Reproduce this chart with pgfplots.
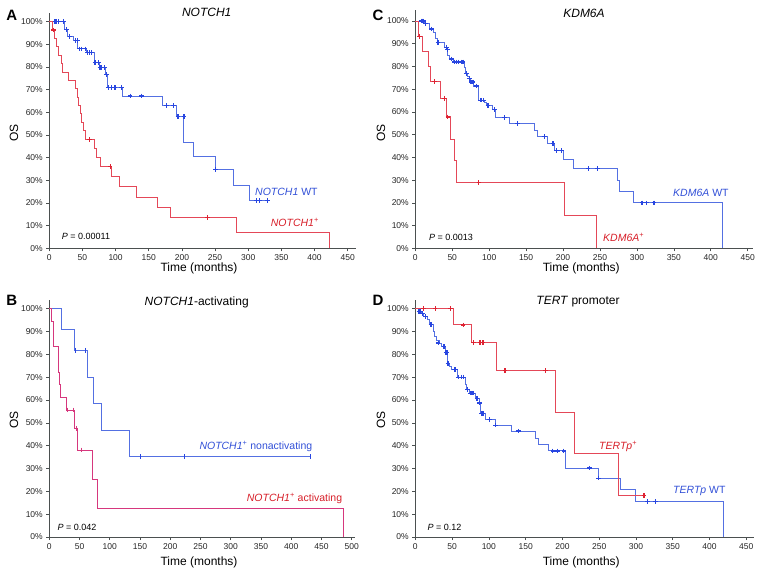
\documentclass[border=0pt]{standalone}
\usepackage{fontspec}
\setmainfont{Liberation Sans}
\usepackage{pgfplots}
\pgfplotsset{compat=1.18}
\definecolor{lblue}{RGB}{84,112,226}
\definecolor{mblue}{RGB}{40,70,225}
\definecolor{lred}{RGB}{228,72,88}
\definecolor{mred}{RGB}{222,35,50}
\definecolor{lmag}{RGB}{214,55,125}
\definecolor{tblue}{RGB}{50,80,215}
\definecolor{tred}{RGB}{215,30,40}
\definecolor{axgray}{RGB}{75,80,80}
\pgfplotsset{
 km/.style={scale only axis, axis x line*=bottom, axis y line*=left, xmin=0, ymin=0, clip=false,
  axis line style={draw=axgray,line width=0.9pt}, tick style={draw=axgray,line width=0.6pt},
  tick align=outside, major tick length=3pt,
  ytick={0,10,20,30,40,50,60,70,80,90,100},
  yticklabels={0\%,10\%,20\%,30\%,40\%,50\%,60\%,70\%,80\%,90\%,100\%},
  tick label style={font=\fontsize{8.5}{10}\selectfont, text=black!85},
  /pgf/number format/assume math mode=true,
  anchor=south west},
 surv/.style={const plot, no marks, line width=0.9pt},
 cens/.style={only marks, mark=+, mark size=2.3pt, mark options={line width=1.2pt}},
 censb/.style={only marks, mark=|, mark size=2.4pt, mark options={line width=0.6pt}},
}
\begin{document}
\begin{tikzpicture}
\useasboundingbox (0pt,0pt) rectangle (766pt,-574pt);
% ---------- Panel A ----------
\begin{axis}[km, at={(49.3pt,-248.3pt)}, x=0.6631pt, y=2.266pt, xmax=463, ymax=104, xtick={0,50,...,450}]
\addplot[surv, lblue] coordinates {(0,100)(23,96.5)(27.7,93.4)(36,91.6)(43,88)(55.5,86.3)(67.6,81.9)(75.7,79.7)(84.8,76.6)(87.3,71)(110.5,67.2)(171,63.1)(192,58.2)(203,46.6)(218,40.7)(251,34.9)(277.5,27.9)(302,21)(329,21)};
\addplot[cens, mblue] coordinates {(8.6,100)(11.2,100)(13.6,100)(21,100)(26,96.5)(31,93.4)(40,91.6)(43,91.6)(45,88)(48,88)(54,88)(58,86.3)(61,86.3)(64,86.3)(69,81.9)(74,81.9)(76.5,79.7)(79,79.7)(83,79.7)(86.5,76.6)(89,71)(94,71)(99,71)(109,71)(122,67.2)(139,67.2)(177,63.1)(187,63.1)(194,58.2)(203,58.2)(251,34.9)(312,21)(317,21)(329,21)};
\addplot[surv, lred] coordinates {(0,100)(4.5,96.3)(7.6,92.6)(11,88.9)(14,85.2)(17.7,81.5)(19.7,77.8)(28.8,74.1)(40,70.4)(43,66.7)(44.4,63)(46.4,59.3)(49,55.6)(51.5,51.9)(55,48.1)(68.6,44.1)(71.6,40.1)(76.7,36.1)(94.3,31.6)(106,27.1)(131,22.6)(163.5,18)(182.6,13.5)(282,6.8)(423,0)};
\addplot[cens, mred] coordinates {(6,96.3)(60.5,48.1)(91.8,36.1)(239,13.5)};
\end{axis}
% ---------- Panel C ----------
\begin{axis}[km, at={(415.3pt,-248.3pt)}, x=0.7387pt, y=2.273pt, xmax=457, ymax=105, xtick={0,50,...,450}]
\addplot[surv, lblue] coordinates {(0,100)(12.6,99)(19,96.5)(24,95)(27.5,92.5)(30,90.5)(39,88.5)(43,87.3)(44,85)(46.5,83.3)(51,82)(66,79.5)(68,77)(70,75.5)(73,74.7)(75,73.2)(79,71.4)(85,69)(86,65.2)(93,64)(96,62.8)(105,61)(109,57.5)(128,55)(161.6,52)(165,49.2)(179,46)(189,43)(200,39)(213.5,35)(273.6,30)(276,25)(295.7,20)(415.8,0)};
\addplot[cens, mblue] coordinates {(8,100)(9.5,100)(11.3,100)(13.5,99)(21.7,96.5)(30.7,90.5)(42,88.5)(43.8,87.3)(48.7,83.3)(53,82)(55.5,82)(58.7,82)(62,82)(64.6,82)(69,77)(73,74.7)(75.5,73.2)(78,73.2)(82.6,71.4)(88,65.2)(90,65.2)(92.6,65.2)(98.4,62.8)(107.5,61)(121,57.5)(138,55)(175,49.2)(186.5,46)(191,43)(198,43)(234,35)(246.5,35)(307,20)(313,20)(323,20)};
\addplot[surv, lred] coordinates {(0,100)(3.6,93.3)(9,86.7)(18,80)(20.8,73.3)(34,66)(42,57.8)(48,48.1)(53,38.5)(55.5,28.9)(202,14.4)(245.6,0)};
\addplot[cens, mred] coordinates {(6,93.3)(26,73.3)(39.7,66)(44,57.8)(86,28.9)};
\end{axis}
% ---------- Panel B ----------
\begin{axis}[km, at={(49.3pt,-537pt)}, x=0.6048pt, y=2.283pt, xmax=505, ymax=103.7, xtick={0,50,...,500}]
\addplot[surv, lblue] coordinates {(0,100)(19.8,90.9)(41,81.8)(62.8,70.1)(73.5,58.4)(87,46.8)(132,35.1)(431,35.1)};
\addplot[censb, mblue] coordinates {(43,81.8)(60,81.8)(151,35.1)(223.6,35.1)(430.8,35.1)};
\addplot[surv, lmag] coordinates {(0,100)(4,94.4)(6.6,83.3)(14.9,72.2)(17,66.7)(19,61.1)(28.7,55.6)(41.4,47.6)(46.9,38.1)(71,25.4)(79,12.7)(487,0)};
\addplot[censb, lmag] coordinates {(30.4,55.6)(39.7,55.6)(45.3,47.6)(52.4,38.1)};
\end{axis}
% ---------- Panel D ----------
\begin{axis}[km, at={(415.3pt,-537pt)}, x=0.7356pt, y=2.283pt, xmax=461, ymax=104, xtick={0,50,...,450}]
\addplot[surv, lblue] coordinates {(0,100)(3.6,98.9)(8,97.8)(11,96.5)(16,95.4)(19.5,93)(24,90)(26.3,88)(28.6,86)(33,85)(35,83.4)(41,80.8)(43.5,76)(46.7,74.6)(49,73.3)(56.7,70)(68,67)(69.4,64.7)(73,63)(82,60.7)(86.6,58.7)(88.4,54)(95,51.5)(108.8,49)(130.6,46.4)(163.7,43.3)(168,40.5)(181,37.7)(204,30.2)(249.4,25.8)(279,20.7)(299.8,15.5)(418.6,0)};
\addplot[cens, mblue] coordinates {(5,98.9)(7,98.9)(9.5,97.8)(13.6,96.5)(21.3,93)(31,85)(39,83.4)(41.5,80.8)(43,80.8)(44.4,76)(53.5,73.3)(55,73.3)(59,70)(62.6,70)(65,70)(66,70)(70.7,64.7)(75,63)(76,63)(78.5,63)(84,60.7)(87.5,58.7)(89.8,54)(92,54)(100.6,51.5)(109.3,49)(140,46.4)(187,37.7)(193,37.7)(202,37.7)(237,30.2)(249.4,25.8)(315.6,15.5)(326.5,15.5)};
\addplot[surv, lred] coordinates {(0,100)(52,92.9)(76,85.1)(110,73)(190.5,54.7)(216.8,36.5)(276.6,18.2)(312,18.2)};
\addplot[cens, mred] coordinates {(11.3,100)(27,100)(48,100)(65,92.9)(79,85.1)(88,85.1)(92,85.1)(122,73)(177,73)(311,18.2)};
\end{axis}
% ---------- Texts ----------
\tikzset{lab/.style={inner sep=0pt}}
\def\ax{\fontsize{12}{14}\selectfont}
\def\ti{\fontsize{12}{14}\selectfont}
\def\pv{\fontsize{9}{11}\selectfont}
\def\sr{\fontsize{10.5}{12}\selectfont}
\def\lt{\fontsize{15}{17}\selectfont\bfseries}
% A
\node[lab] at (11.7pt,-15pt) {\lt A};
\node[lab] at (206.7pt,-12.3pt) {\ti\textit{NOTCH1}};
\node[lab,rotate=90] at (14pt,-133pt) {\ax OS};
\node[lab] at (199pt,-268.3pt) {\ax Time (months)};
\node[lab,anchor=west] at (61.7pt,-236pt) {\pv\textit{P} = 0.00011};
\node[lab,anchor=west,text=tblue] at (255pt,-191.7pt) {\sr\textit{NOTCH1} WT};
\node[lab,anchor=east,text=tred] at (319pt,-222.7pt) {\sr\textit{NOTCH1}\textsuperscript{+}};
% C
\node[lab] at (378pt,-15pt) {\lt C};
\node[lab] at (584pt,-13.3pt) {\ti\textit{KDM6A}};
\node[lab,rotate=90] at (381pt,-133pt) {\ax OS};
\node[lab] at (581.3pt,-268.3pt) {\ax Time (months)};
\node[lab,anchor=west] at (429pt,-237.7pt) {\pv\textit{P} = 0.0013};
\node[lab,anchor=west,text=tblue] at (673pt,-192.7pt) {\sr\textit{KDM6A} WT};
\node[lab,anchor=west,text=tred] at (603pt,-237.7pt) {\sr\textit{KDM6A}\textsuperscript{+}};
% B
\node[lab] at (11.7pt,-300.3pt) {\lt B};
\node[lab] at (196.7pt,-302.7pt) {\ti\textit{NOTCH1}-activating};
\node[lab,rotate=90] at (14pt,-420pt) {\ax OS};
\node[lab] at (199pt,-562pt) {\ax Time (months)};
\node[lab,anchor=west] at (57.3pt,-527.7pt) {\pv\textit{P} = 0.042};
\node[lab,anchor=west,text=tblue] at (199.3pt,-446.3pt) {\sr\textit{NOTCH1}\textsuperscript{+} nonactivating};
\node[lab,anchor=east,text=tred] at (342.3pt,-498pt) {\sr\textit{NOTCH1}\textsuperscript{+} activating};
% D
\node[lab] at (378pt,-300.3pt) {\lt D};
\node[lab] at (578pt,-302pt) {\ti\textit{TERT} promoter};
\node[lab,rotate=90] at (381pt,-420pt) {\ax OS};
\node[lab] at (581.3pt,-562pt) {\ax Time (months)};
\node[lab,anchor=west] at (427.3pt,-527pt) {\pv\textit{P} = 0.12};
\node[lab,anchor=west,text=tred] at (599pt,-446.3pt) {\sr\textit{TERTp}\textsuperscript{+}};
\node[lab,anchor=west,text=tblue] at (673pt,-491.3pt) {\sr\textit{TERTp} WT};
\end{tikzpicture}
\end{document}
